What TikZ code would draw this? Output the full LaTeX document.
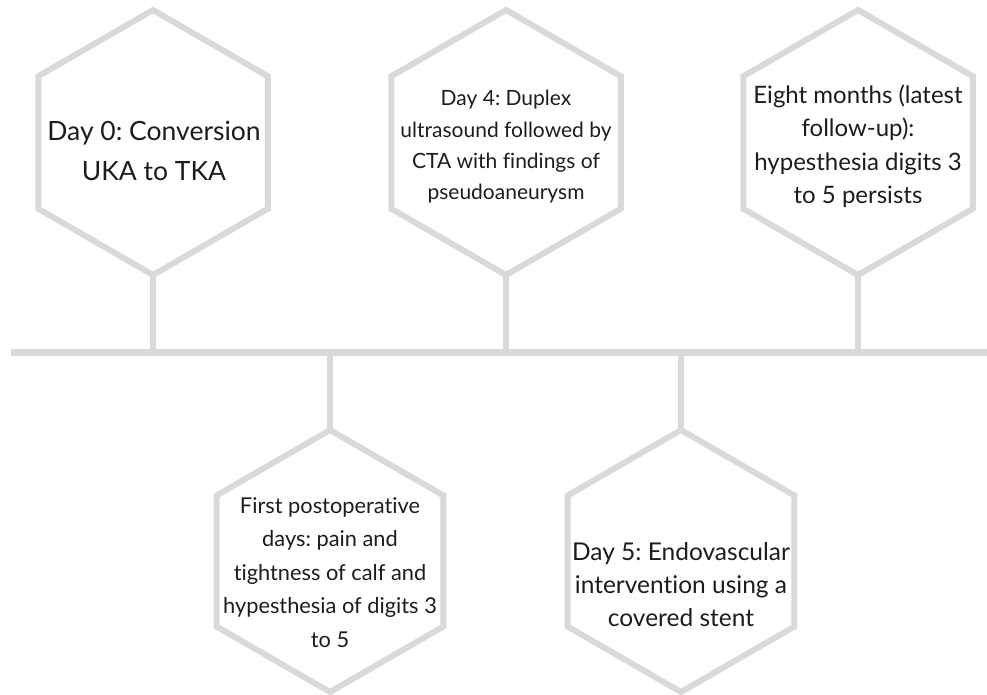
\documentclass[tikz,border=0pt]{standalone}
\usepackage{fontspec}
\setmainfont{Lato}[Ligatures=NoCommon]
\usetikzlibrary{calc}
\definecolor{hexgray}{RGB}{217,217,217}
\definecolor{ink}{RGB}{28,28,28}
\tikzset{
  hexline/.style={draw=hexgray, line width=6pt, line join=miter},
  stemline/.style={draw=hexgray, line width=6pt},
  timeline/.style={draw=hexgray, line width=7pt},
  txt/.style={align=center, inner sep=0pt, text=ink, font=\fontsize{20}{31}\selectfont},
}
\begin{document}
\frenchspacing
\begin{tikzpicture}[x=1pt, y=-1pt]
\useasboundingbox (0,0) rectangle (987,695);
% centres
\coordinate (c1) at (153,142.5);
\coordinate (c2) at (506,142.5);
\coordinate (c3) at (858,142.5);
\coordinate (c4) at (330,561);
\coordinate (c5) at (681,561);
\coordinate (L) at (11,352.5);
\coordinate (R) at (987,352.5);
% hexagons (pointy top/bottom)
\foreach \c/\r in {c1/132.5,c2/132.5,c3/132.5,c4/131,c5/131}{
  \draw[hexline] ($(\c)+(90:\r)$) -- ($(\c)+(30:\r)$) -- ($(\c)+(-30:\r)$)
     -- ($(\c)+(-90:\r)$) -- ($(\c)+(-150:\r)$) -- ($(\c)+(150:\r)$) -- cycle;
}
% stems
\coordinate (b1) at ($(c1)+(0,132.5)$);
\coordinate (b2) at ($(c2)+(0,132.5)$);
\coordinate (b3) at ($(c3)+(0,132.5)$);
\coordinate (b4) at ($(c4)+(0,-131)$);
\coordinate (b5) at ($(c5)+(0,-131)$);
\draw[stemline] (b1) -- (b1 |- L);
\draw[stemline] (b2) -- (b2 |- L);
\draw[stemline] (b3) -- (b3 |- L);
\draw[stemline] (b4) -- (b4 |- L);
\draw[stemline] (b5) -- (b5 |- L);
% timeline
\draw[timeline] (L) -- (R);
% texts
\node[txt, font=\fontsize{26.5}{40.5}\selectfont] (t1) at (154,151) {Day 0: Conversion\\UKA to TKA};
\node[txt, font=\fontsize{21}{31.3}\selectfont] (t2) at (506,147) {Day 4: Duplex\\ultrasound followed by\\CTA with findings of\\pseudoaneurysm};
\node[txt, font=\fontsize{24}{33.5}\selectfont] (t3) at (858,146.5) {Eight months (latest\\follow-up):\\hypesthesia digits 3\\to 5 persists};
\node[txt, font=\fontsize{21.8}{33.5}\selectfont] (t4) at (330,572.5) {First postoperative\\days: pain and\\tightness of calf and\\hypesthesia of digits 3\\to 5};
\node[txt, font=\fontsize{24.5}{33}\selectfont] (t5) at (681,585) {Day 5: Endovascular\\intervention using a\\covered stent};
\end{tikzpicture}
\end{document}
